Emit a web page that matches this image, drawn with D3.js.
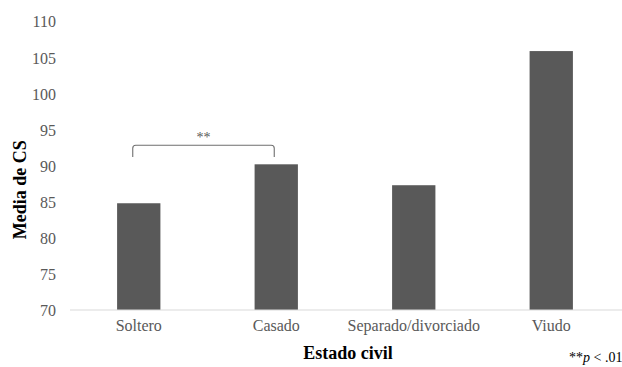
<!DOCTYPE html>
<html>
<head>
<meta charset="utf-8">
<script src="https://cdn.jsdelivr.net/npm/d3@7"></script>
<style>
  html, body { margin: 0; padding: 0; background: #fff; }
  svg { display: block; }
  svg text { font-family: 'Liberation Serif', 'DejaVu Serif', serif; }
</style>
</head>
<body>
<svg id="chart" width="622" height="367"></svg>
<script>
// Mean CS score by marital status
const categories = ["Soltero", "Casado", "Separado/divorciado", "Viudo"];
const values = [84.8, 90.2, 87.3, 105.9];
const yTicks = [70, 75, 80, 85, 90, 95, 100, 105, 110];
const yDomain = [70, 110];

// significance bracket between Soltero and Casado
const sigPair = ["Soltero", "Casado"];
const sigLabel = "**";
const sigTop = 92.85;
const sigFoot = 91.2;

const W = 622, H = 367;
const margin = { top: 21.5, bottom: 310, left: 70, right: 2 };
const svg = d3.select("#chart");

const x = d3.scaleBand()
  .domain(categories)
  .range([margin.left, W - margin.right])
  .paddingInner(0.685)
  .paddingOuter(0.3425);

const y = d3.scaleLinear()
  .domain(yDomain)
  .range([margin.bottom, margin.top]);

// y axis tick labels (no axis line, no tick marks)
const yAxis = svg.append("g")
  .attr("transform", `translate(${margin.left - 14},0)`)
  .attr("font-family", null)
  .call(d3.axisLeft(y).tickValues(yTicks).tickSize(0).tickPadding(0));
yAxis.attr("font-family", null).attr("font-size", null);
yAxis.select(".domain").remove();
yAxis.selectAll("text")
  .attr("fill", "#595959")
  .attr("font-size", 16)
  .attr("dy", "0.34em");

// bars
svg.append("g").selectAll("rect")
  .data(categories)
  .join("rect")
  .attr("x", d => x(d))
  .attr("width", x.bandwidth())
  .attr("y", (d, i) => y(values[i]))
  .attr("height", (d, i) => y(yDomain[0]) - y(values[i]))
  .attr("fill", "#595959");

// x axis baseline and category labels
const xAxis = svg.append("g")
  .attr("transform", `translate(0,${y(yDomain[0])})`)
  .call(d3.axisBottom(x).tickSize(0).tickPadding(10));
xAxis.attr("font-family", null).attr("font-size", null);
xAxis.select(".domain")
  .attr("stroke", "#d9d9d9")
  .attr("stroke-width", 1.2)
  .attr("d", `M${margin.left},0H${W}`);
xAxis.selectAll("text")
  .attr("fill", "#595959")
  .attr("font-size", 16);

// significance bracket
const bx1 = x(sigPair[0]) + x.bandwidth() / 2 - 6;
const bx2 = x(sigPair[1]) + x.bandwidth() / 2 - 2;
const by = y(sigTop), bf = y(sigFoot), r = 3;
svg.append("path")
  .attr("d", `M${bx1},${bf}V${by + r}Q${bx1},${by} ${bx1 + r},${by}H${bx2 - r}Q${bx2},${by} ${bx2},${by + r}V${bf}`)
  .attr("fill", "none")
  .attr("stroke", "#6f6f6f")
  .attr("stroke-width", 1.1);
svg.append("text")
  .attr("x", (bx1 + bx2) / 2)
  .attr("y", by - 3)
  .attr("text-anchor", "middle")
  .attr("font-size", 14)
  .attr("fill", "#595959")
  .text(sigLabel);

// axis titles
svg.append("text")
  .attr("transform", `translate(26,${(y(yDomain[0]) + y(yDomain[1])) / 2 + 24}) rotate(-90)`)
  .attr("text-anchor", "middle")
  .attr("font-size", 18)
  .attr("font-weight", "bold")
  .attr("fill", "#000")
  .text("Media de CS");

svg.append("text")
  .attr("x", (margin.left + W) / 2 + 2)
  .attr("y", 359)
  .attr("text-anchor", "middle")
  .attr("font-size", 18)
  .attr("font-weight", "bold")
  .attr("fill", "#000")
  .text("Estado civil");

// footnote
const note = svg.append("text")
  .attr("x", 569)
  .attr("y", 362)
  .attr("font-size", 14)
  .attr("fill", "#000");
note.append("tspan").text("**");
note.append("tspan").attr("font-style", "italic").text("p");
note.append("tspan").text(" < .01");
</script>
</body>
</html>
